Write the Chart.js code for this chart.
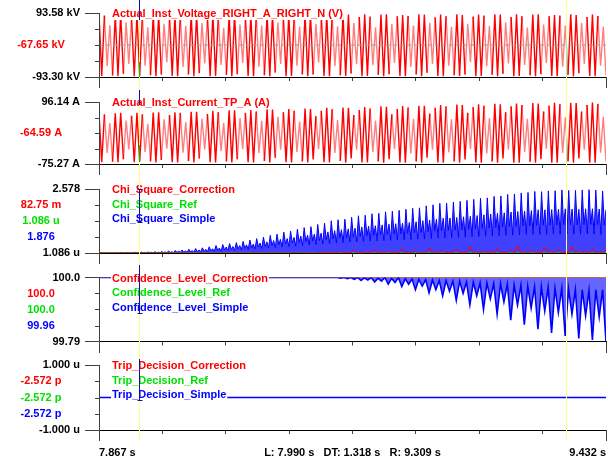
<!DOCTYPE html>
<html>
<head>
<meta charset="utf-8">
<script src="https://cdn.jsdelivr.net/npm/chart.js@4.4.1/dist/chart.umd.min.js"></script>
<style>
  body { margin: 0; background: #fff; width: 608px; height: 461px; overflow: hidden; position: relative; }
  .panel { position: absolute; left: 0; width: 608px; }
</style>
</head>
<body>
<div class="panel" style="top:0;height:90px"><canvas id="p1"></canvas></div>
<div class="panel" style="top:90px;height:87px"><canvas id="p2"></canvas></div>
<div class="panel" style="top:177px;height:88px"><canvas id="p3"></canvas></div>
<div class="panel" style="top:265px;height:88px"><canvas id="p4"></canvas></div>
<div class="panel" style="top:353px;height:108px"><canvas id="p5"></canvas></div>
<script>
// time window and cursors
const timeStart = 7.867, timeEnd = 9.432;
const cursorTimes = [7.990, 9.309];
const timeLabels = ['7.867 s', '9.432 s'];
const cursorText = 'L: 7.990 s   DT: 1.318 s   R: 9.309 s';

// panel 1 - voltage (kV)
const voltageRange = [-93.30, 93.58];
const voltageTicks = ['-93.30 kV', '93.58 kV'];
const voltageNames = ['Actual_Inst_Voltage_RIGHT_A_RIGHT_N (V)'];
const voltageCursor = ['-67.65 kV'];
const zeroLine = [0, 0];
const voltage = [
  92,-90, 86,-62, 58,-89, 88,-91, 90,-84, 66,-55, 80,-91, 89,-90, 84,-60, 52,-88,
  89,-91, 90,-86, 62,-50, 82,-90, 88,-91, 86,-64, 56,-86, 90,-91, 89,-82, 64,-54,
  84,-91, 90,-90, 82,-58, 50,-87, 89,-91, 90,-85, 60,-52, 83,-90, 89,-91, 85,-63,
  57,-88, 90,-91, 88,-80, 66,-55, 81,-91, 89,-90, 84,-60, 54,-86, 90,-91, 89,-86,
  62,-51, 84,-90, 88,-91, 86,-62, 55,-88, 90,-90, 89,-83, 64,-56, 82,-91, 90,-90,
  83,-59, 52,-87, 89,-91, 90,-85, 61,-52, 84,-90, 88,-91, 85,-64, 57,-86, 90,-91,
  89,-81, 65,-55, 81,-90, 89,-91, 84,-60, 53,-88, 90,-90, 88,-86, 62,-50, 83,-91,
  89,-90, 86,-62, 56,-87, 90,-91, 89,-84, 66,-54, 82,-91, 90,-90, 84,-58, 51,-88,
  89,-91, 90,-85, 60,-52, 84,-90, 88,-91, 86,-63, 57,-87, 90,-91, 88,-82, 64,-55,
  82,-90, 89,-91, 85,-60, 54,-88
];

// panel 2 - current (A)
const currentRange = [-75.27, 96.14];
const currentTicks = ['-75.27 A', '96.14 A'];
const currentNames = ['Actual_Inst_Current_TP_A (A)'];
const currentCursor = ['-64.59 A'];
const current = [
  64,-70, 62,-45, 38,-69, 65,-70, 66,-62, 45,-35, 58,-70, 66,-69, 62,-42, 36,-68,
  67,-71, 68,-64, 48,-33, 60,-70, 68,-71, 66,-44, 40,-67, 69,-71, 69,-60, 50,-35,
  63,-70, 72,-71, 68,-40, 38,-68, 73,-71, 73,-62, 52,-34, 66,-70, 74,-71, 70,-45,
  44,-67, 76,-71, 75,-58, 55,-36, 68,-70, 77,-71, 72,-42, 42,-68, 78,-71, 77,-63,
  57,-34, 72,-70, 80,-71, 76,-45, 46,-67, 81,-72, 80,-60, 60,-36, 74,-71, 82,-71,
  78,-42, 45,-68, 84,-72, 83,-62, 62,-34, 77,-71, 85,-72, 81,-46, 50,-68, 86,-72,
  86,-58, 64,-36, 80,-71, 88,-72, 84,-43, 48,-68, 89,-72, 88,-63, 66,-34, 82,-71,
  90,-72, 86,-46, 52,-68, 91,-72, 90,-60, 68,-36, 84,-72, 92,-72, 88,-42, 50,-69,
  93,-72, 92,-62, 70,-34, 86,-72, 94,-72, 90,-45, 54,-68, 94,-72, 93,-60, 70,-36,
  88,-72, 95,-72, 91,-44, 55,-69
];

// panel 3 - chi square
const chiRange = [1.086e-6, 2.578];
const chiTicks = ['1.086 u', '2.578'];
const chiNames = ['Chi_Square_Correction', 'Chi_Square_Ref', 'Chi_Square_Simple'];
const chiCursor = ['82.75 m', '1.086 u', '1.876'];
const chiRef = [1.086e-6, 1.086e-6];
const chiCorrection = [
  0,0,0,0,0,0,0,0,0,0, 0,0,0,0,0,0,0,0,0,0, 0,0,0,0,0,0,0,0,0,0,
  0,0,0,0,0,0,0,0,0,0, 0,0,0,0,0,0,0,0,0,0, 0,0,0,0,0,0,0,0,0,0, 0,0,0,0,
  0,0.02, 0,0.05, 0,0.01, 0,0.08, 0,0.03, 0,0.12, 0,0.02, 0,0.06, 0,0.15, 0,0.04,
  0,0.1, 0,0.03, 0,0.18, 0,0.05, 0,0.08, 0,0.02, 0,0.22, 0,0.06, 0,0.12, 0,0.04,
  0,0.16, 0,0.03, 0,0.28, 0,0.07, 0,0.1, 0,0.05, 0,0.2, 0,0.04, 0,0.14, 0,0.3,
  0,0.06, 0,0.12, 0,0.05, 0,0.22, 0,0.08, 0,0.15, 0,0.04, 0,0.26, 0,0.1, 0,0.06,
  0,0.18, 0,0.05, 0,0.12
];
const chiSimple = [
  0,0.01,0,0.005, 0,0.012,0,0.006, 0,0.015,0,0.01, 0,0.02,0,0.012, 0,0.022,0.002,0.014,
  0.002,0.03,0.004,0.02, 0.003,0.035,0.005,0.022, 0.004,0.042,0.006,0.028, 0.006,0.05,0.01,0.034, 0.008,0.062,0.012,0.04,
  0.01,0.08,0.02,0.05, 0.015,0.1,0.025,0.07, 0.02,0.12,0.03,0.08, 0.025,0.15,0.04,0.1, 0.03,0.18,0.05,0.12,
  0.04,0.21,0.06,0.15, 0.05,0.25,0.08,0.17, 0.06,0.3,0.1,0.2, 0.07,0.34,0.12,0.24, 0.09,0.38,0.14,0.26,
  0.1,0.42,0.16,0.3, 0.12,0.47,0.18,0.33, 0.14,0.52,0.2,0.36, 0.16,0.58,0.24,0.4, 0.18,0.64,0.26,0.45,
  0.2,0.71,0.3,0.5, 0.22,0.76,0.33,0.55, 0.24,0.84,0.36,0.58, 0.26,0.88,0.4,0.63, 0.28,0.96,0.42,0.68,
  0.3,1.02,0.45,0.72, 0.32,1.06,0.48,0.76, 0.34,1.15,0.5,0.8, 0.36,1.2,0.54,0.85, 0.38,1.3,0.57,0.9,
  0.4,1.34,0.6,0.94, 0.42,1.36,0.62,0.97, 0.44,1.44,0.64,1.0, 0.45,1.5,0.67,1.05, 0.46,1.52,0.69,1.08,
  0.48,1.58,0.71,1.1, 0.49,1.6,0.73,1.13, 0.5,1.66,0.75,1.16, 0.51,1.68,0.76,1.18, 0.52,1.72,0.77,1.2,
  0.53,1.76,0.79,1.23, 0.54,1.8,0.81,1.26, 0.56,1.82,0.83,1.3, 0.57,1.9,0.85,1.33, 0.58,1.94,0.88,1.36,
  0.6,2.0,0.9,1.4, 0.61,2.01,0.91,1.41, 0.62,2.05,0.92,1.43, 0.63,2.08,0.94,1.46, 0.64,2.12,0.95,1.48,
  0.65,2.16,0.97,1.51, 0.66,2.2,0.99,1.54, 0.67,2.22,1.0,1.57, 0.68,2.28,1.02,1.6, 0.7,2.3,1.04,1.62,
  0.71,2.36,1.06,1.65, 0.72,2.38,1.07,1.67, 0.73,2.42,1.09,1.69, 0.74,2.44,1.1,1.71, 0.75,2.48,1.11,1.74,
  0.75,2.47,1.12,1.74, 0.75,2.5,1.12,1.75, 0.76,2.51,1.13,1.76, 0.76,2.54,1.14,1.78, 0.76,2.52,1.14,1.77,
  0.76,2.52,1.13,1.76, 0.76,2.54,1.14,1.78, 0.77,2.55,1.15,1.78, 0.76,2.53,1.14,1.77, 0.75,2.5,1.12,1.75
];

// panel 4 - confidence level
const confRange = [99.79, 100.0];
const confTicks = ['99.79', '100.0'];
const confNames = ['Confidence_Level_Correction', 'Confidence_Level_Ref', 'Confidence_Level_Simple'];
const confCursor = ['100.0', '100.0', '99.96'];
const confCorrection = [100, 100];
const confRef = [100, 100];
const confSimple = [
  100,100,100,100,100,100,100,100,100,100, 100,100,100,100,100,100,100,100,100,100,
  100,100,100,100,100,100,100,100,100,100, 100,100,100,100,100,100,100,100,100,100,
  100,100,100,100,100,100,100,100,100,100, 100,100,100,100,100,100,100,100,100,100,
  100,100,100,100,100,100,100,100,100,100,
  100,99.998, 100,99.996, 100,99.994, 100,99.99, 99.999,99.992, 100,99.985, 99.998,99.988, 100,99.978, 99.997,99.984, 100,99.97,
  99.996,99.978, 99.995,99.96, 99.994,99.972, 99.993,99.95, 99.992,99.96, 99.99,99.94, 99.99,99.955, 99.988,99.925, 99.988,99.948, 99.985,99.91,
  99.985,99.94, 99.982,99.895, 99.982,99.93, 99.98,99.88, 99.98,99.92, 99.978,99.86, 99.975,99.91, 99.975,99.845, 99.972,99.9, 99.97,99.83,
  99.97,99.89, 99.968,99.818, 99.965,99.885, 99.965,99.808, 99.962,99.88, 99.96,99.8, 99.96,99.875, 99.958,99.795, 99.96,99.87, 99.96,99.79
];

// panel 5 - trip decision
const tripRange = [-1e-6, 1e-6];
const tripTicks = ['-1.000 u', '1.000 u'];
const tripNames = ['Trip_Decision_Correction', 'Trip_Decision_Ref', 'Trip_Decision_Simple'];
const tripCursor = ['-2.572 p', '-2.572 p', '-2.572 p'];
const tripCorrection = [-2.572e-12, -2.572e-12];
const tripRef = [-2.572e-12, -2.572e-12];
const tripSimple = [-2.572e-12, -2.572e-12];

const RED = '#ff0000', PINK = 'rgba(255,0,0,0.5)', GREEN = '#00e000', BLUE = '#0000ff', NAVY = '#1010a0';
const FONT = 'bold 11px "Liberation Sans", Arial, sans-serif';

Chart.defaults.font.family = '"Liberation Sans", Arial, sans-serif';
Chart.defaults.font.size = 11;
Chart.defaults.font.weight = 'bold';

function series(values) {
  const step = (timeEnd - timeStart) / (values.length - 1);
  return values.map((v, i) => ({ x: timeStart + i * step, y: v }));
}

function evenTicks(lo, hi, n) {
  return Array.from({ length: n + 1 }, (_, i) => ({ value: lo + i * (hi - lo) / n }));
}

function line(values, color, extra) {
  return Object.assign({ data: series(values), borderColor: color, backgroundColor: color, fill: false }, extra || {});
}

// swings that touch a small value are drawn paler, like the scope picture
function wave(values, small) {
  return line(values, RED, {
    borderWidth: 1.4,
    segment: {
      borderColor: c => Math.min(Math.abs(c.p0.parsed.y), Math.abs(c.p1.parsed.y)) < small ? PINK : RED
    }
  });
}

// names, cursor values, small ticks, cursor lines, time labels
const panelDeco = {
  id: 'panelDeco',
  afterDatasetsDraw(chart, args, o) {
    const ctx = chart.ctx, a = chart.chartArea;
    ctx.save();
    ctx.font = FONT;
    ctx.textBaseline = 'middle';
    o.names.forEach((n, i) => {
      const ty = a.top + 1 + i * 14.5;
      const w = ctx.measureText(n).width;
      ctx.fillStyle = '#fff';
      ctx.fillRect(a.left + 12, ty - 6, w + 2, 12);
      ctx.fillStyle = o.colors[i];
      ctx.textAlign = 'left';
      ctx.fillText(n, a.left + 13, ty);
    });
    ctx.textAlign = 'center';
    o.values.forEach((v, i) => {
      const vy = a.top + (i + 1) * (a.bottom - a.top) / (o.values.length + 1);
      ctx.fillStyle = o.colors[i];
      ctx.fillText(v, 41, vy);
    });
    ctx.restore();
  },
  afterDraw(chart, args, o) {
    const ctx = chart.ctx, a = chart.chartArea, xs = chart.scales.x, ys = chart.scales.y;
    ctx.save();
    ctx.lineWidth = 1;
    ctx.strokeStyle = '#404040';
    ctx.beginPath();
    ys.ticks.forEach((t, i) => {
      if (i === 0 || i === ys.ticks.length - 1) return;
      const yy = Math.round(ys.getPixelForValue(t.value)) + 0.5;
      ctx.moveTo(a.left - 4, yy); ctx.lineTo(a.left, yy);
    });
    [a.left, a.right].forEach(v => {
      const xx = Math.round(v) + 0.5;
      ctx.moveTo(xx, Math.round(a.bottom)); ctx.lineTo(xx, Math.round(a.bottom) + 11);
    });
    ctx.stroke();

    const lim = o.cursorEnd || chart.height;
    ctx.strokeStyle = '#ffff88';
    cursorTimes.forEach(t => {
      const xx = Math.round(xs.getPixelForValue(t)) + 0.5;
      ctx.beginPath(); ctx.moveTo(xx, 0); ctx.lineTo(xx, lim); ctx.stroke();
    });

    (o.marks || []).forEach(m => {
      const xx = Math.round(xs.getPixelForValue(cursorTimes[m.c])) + 0.5;
      const y0 = Math.max(Math.round(a.top + m.from), 0), y1 = Math.round(a.top + m.to);
      ctx.strokeStyle = m.color;
      ctx.beginPath();
      ctx.moveTo(xx, y0); ctx.lineTo(xx, y1);
      if (m.caps) {
        ctx.moveTo(xx - 2, y1 + 0.5); ctx.lineTo(xx + 3, y1 + 0.5);
        if (m.from >= 0) { ctx.moveTo(xx - 2, y0 + 0.5); ctx.lineTo(xx + 3, y0 + 0.5); }
      }
      ctx.stroke();
    });

    if (o.footer) {
      const fy = Math.round(a.bottom) + 23;
      ctx.fillStyle = '#000';
      ctx.font = FONT;
      ctx.textBaseline = 'middle';
      ctx.textAlign = 'left';
      ctx.fillText(timeLabels[0], a.left, fy);
      ctx.textAlign = 'right';
      ctx.fillText(timeLabels[1], a.right, fy);
      ctx.textAlign = 'center';
      ctx.fillText(o.footer, (a.left + a.right) / 2, fy);
    }
    ctx.restore();
  }
};

function makePanel(id, p) {
  return new Chart(document.getElementById(id), {
    type: 'line',
    data: { datasets: p.datasets },
    options: {
      animation: false,
      responsive: true,
      maintainAspectRatio: false,
      devicePixelRatio: 1,
      layout: { padding: { top: p.padTop, right: 2, left: 0, bottom: 0 } },
      elements: { point: { radius: 0 }, line: { borderWidth: 1, tension: 0 } },
      plugins: { legend: { display: false }, tooltip: { enabled: false }, panelDeco: p.deco },
      scales: {
        x: {
          type: 'linear', min: timeStart, max: timeEnd,
          afterBuildTicks: ax => { ax.ticks = evenTicks(timeStart, timeEnd, 8); },
          afterFit: ax => { ax.height = p.xHeight; },
          grid: { drawOnChartArea: false, tickLength: 4, color: '#404040' },
          border: { color: '#000', z: 1 },
          ticks: { display: false }
        },
        y: {
          min: p.range[0], max: p.range[1],
          afterBuildTicks: ax => { ax.ticks = evenTicks(p.range[0], p.range[1], 4); },
          afterFit: ax => { ax.width = 99; },
          grid: {
            drawOnChartArea: false, tickLength: 14,
            tickColor: c => (c.index === 0 || c.index === 4) ? '#404040' : 'rgba(0,0,0,0)'
          },
          border: { color: '#404040', z: 1 },
          ticks: {
            padding: 5, color: '#000', font: { lineHeight: 1 },
            callback: (v, i, t) => i === 0 ? p.ticks[0] : (i === t.length - 1 ? p.ticks[1] : '')
          }
        }
      }
    },
    plugins: [panelDeco]
  });
}

makePanel('p1', {
  padTop: 13, xHeight: 13, range: voltageRange, ticks: voltageTicks,
  datasets: [
    line(zeroLine, '#999999', { borderDash: [4, 3] }),
    wave(voltage, 70)
  ],
  deco: {
    names: voltageNames, colors: [RED], values: voltageCursor,
    marks: [
      { c: 0, from: -13, to: 7, color: NAVY },
      { c: 0, from: 49, to: 64, color: '#00c000' },
      { c: 1, from: 25, to: 64, color: '#90ff90' }
    ]
  }
});

makePanel('p2', {
  padTop: 12, xHeight: 13, range: currentRange, ticks: currentTicks,
  datasets: [wave(current, 56)],
  deco: {
    names: currentNames, colors: [RED], values: currentCursor,
    marks: [
      { c: 0, from: -12, to: 3, color: NAVY },
      { c: 0, from: 43, to: 60, color: '#00c000' },
      { c: 1, from: 36, to: 61, color: '#90ff90' }
    ]
  }
});

makePanel('p3', {
  padTop: 12, xHeight: 12, range: chiRange, ticks: chiTicks,
  datasets: [
    line(chiCorrection, RED),
    line(chiRef, GREEN),
    line(chiSimple, BLUE, { fill: 'start', backgroundColor: 'rgba(0,0,255,0.75)' })
  ],
  deco: {
    names: chiNames, colors: [RED, GREEN, BLUE], values: chiCursor,
    marks: [{ c: 0, from: 0, to: 33, color: NAVY, caps: true }]
  }
});

makePanel('p4', {
  padTop: 12.5, xHeight: 11.5, range: confRange, ticks: confTicks,
  datasets: [
    line(confSimple, BLUE, { borderWidth: 1.6, fill: 'end', backgroundColor: 'rgba(0,0,255,0.6)' }),
    line(confCorrection, RED),
    line(confRef, GREEN)
  ],
  deco: {
    names: confNames, colors: [RED, GREEN, BLUE], values: confCursor,
    marks: [{ c: 0, from: -15, to: 35, color: NAVY, caps: true }]
  }
});

makePanel('p5', {
  padTop: 12, xHeight: 31, range: tripRange, ticks: tripTicks,
  datasets: [
    line(tripSimple, BLUE, { borderWidth: 1.6 }),
    line(tripCorrection, RED),
    line(tripRef, GREEN)
  ],
  deco: {
    names: tripNames, colors: [RED, GREEN, BLUE], values: tripCursor,
    marks: [{ c: 0, from: -6, to: 35, color: NAVY, caps: true }],
    cursorEnd: 87, footer: cursorText
  }
});
</script>
</body>
</html>
